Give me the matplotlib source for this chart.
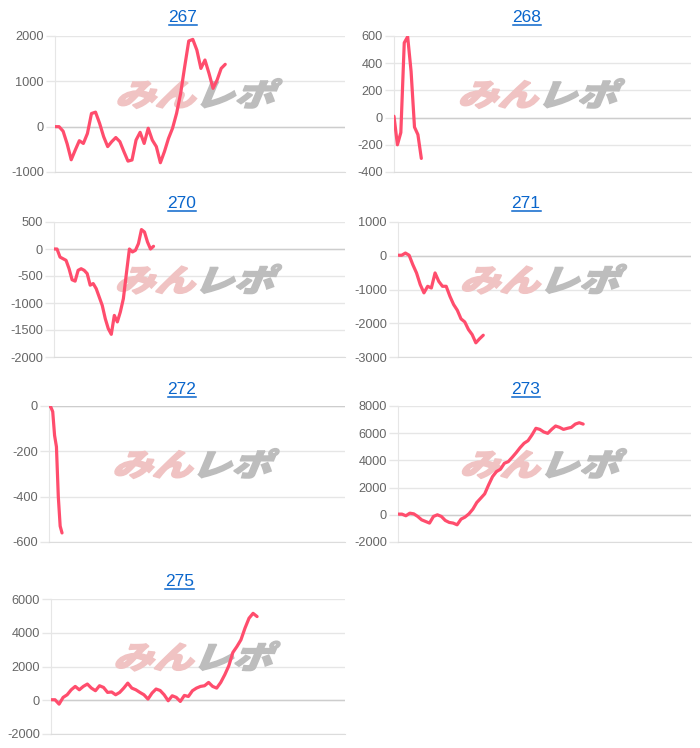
import numpy as np
import matplotlib
matplotlib.use('Agg')
import matplotlib.pyplot as plt
from matplotlib.textpath import TextPath
from matplotlib.font_manager import FontProperties
from matplotlib.patches import PathPatch
from matplotlib.transforms import Affine2D
from matplotlib.lines import Line2D

plt.rcParams['font.family'] = ['Liberation Sans', 'DejaVu Sans']

#%% Daten
titles = ['267', '268', '270', '271', '272', '273', '275']

s267 = [0, 0, -100, -380, -730, -515, -310, -370, -150, 290, 320, 75, -220, -440,
        -330, -240, -330, -550, -760, -735, -295, -125, -370, -35, -295, -440, -795,
        -550, -260, -35, 295, 735, 1325, 1890, 1925, 1690, 1285, 1470, 1175, 845,
        1030, 1285, 1375]
s268 = [10, -200, -110, 550, 595, 340, -70, -125, -300]
s270 = [0, 0, -150, -180, -210, -365, -570, -595, -395, -365, -395, -455, -670, -640,
        -735, -890, -1045, -1290, -1475, -1580, -1230, -1350, -1165, -920, -455, 0,
        -55, -25, 100, 360, 315, 130, 0, 50]
s271 = [15, 15, 80, 15, -265, -510, -855, -1100, -905, -955, -510, -760, -905, -905,
        -1200, -1445, -1615, -1870, -1960, -2185, -2335, -2580, -2460, -2355]
s272 = [0, -5, -25, -130, -180, -400, -530, -560]
s273 = [50, 50, -70, 120, 70, -120, -370, -490, -610, -120, 0, -120, -415, -560, -610,
        -735, -320, -170, 70, 415, 905, 1220, 1540, 2200, 2810, 3180, 3350, 3790, 3910,
        4230, 4570, 4940, 5260, 5450, 5870, 6360, 6280, 6090, 5990, 6280, 6530, 6430,
        6280, 6360, 6430, 6670, 6770, 6670]
s275 = [30, 30, -230, 170, 325, 620, 820, 620, 820, 960, 720, 565, 860, 760, 465, 490,
        325, 465, 720, 1015, 720, 620, 465, 325, 70, 425, 665, 580, 325, -30, 265, 170,
        -70, 285, 225, 565, 720, 820, 860, 1055, 820, 720, 1055, 1510, 2040, 2830, 3180,
        3580, 4270, 4860, 5150, 4960]
series = [s267, s268, s270, s271, s272, s273, s275]

# Anteil der x-Achse, den die Linie belegt
line_frac = [0.587, 0.092, 0.342, 0.291, 0.044, 0.632, 0.701]

yticks = [np.arange(-1000, 2001, 1000), np.arange(-400, 601, 200),
          np.arange(-2000, 501, 500), np.arange(-3000, 1001, 1000),
          np.arange(-600, 1, 200), np.arange(-2000, 8001, 2000),
          np.arange(-2000, 6001, 2000)]

#%% Layout in Pixeln (links, oben, rechts, unten), Titel (x, Grundlinie)
W, H = 700, 748
boxes = [(55, 36, 345, 172), (394, 36, 691, 172),
         (54, 222, 345, 357), (398, 222, 691, 357),
         (49, 406, 345, 542), (398, 406, 691, 542),
         (51, 599, 345, 734)]
tpos = [(183, 22.5), (527, 22.5), (182, 208.5), (526, 208.5),
        (182, 394), (526, 394), (180, 586)]

red = '#ff4d6d'
grid_c = '#e6e6e6'
zero_c = '#cdcdcd'

fig = plt.figure(figsize=(W / 100, H / 100), dpi=100)
fig.patch.set_facecolor('white')

fp = FontProperties(family='Noto Sans CJK JP', weight='black')
p1 = TextPath((0, 0), 'みん', prop=fp, size=1)
p2 = TextPath((0, 0), 'レポ', prop=fp, size=1)


def add_logo(ax):
    # Wasserzeichen, schraeg gestellt
    cx, cy = ax.transAxes.transform((0.5, 0.57))
    sk = Affine2D().skew_deg(18, 0).scale(40, 31)
    e1 = sk.transform_path(p1).get_extents()
    e2 = sk.transform_path(p2).get_extents()
    gap = 5
    total = e1.width + gap + e2.width
    x0 = cx - total / 2
    ymid = (e1.y0 + e1.y1) / 2
    t1 = sk + Affine2D().translate(x0 - e1.x0, cy - ymid)
    t2 = sk + Affine2D().translate(x0 + e1.width + gap - e2.x0, cy - ymid)
    ax.add_artist(PathPatch(p1, transform=t1, fc='#f0c3c3', ec='#f0c3c3', lw=1.2,
                            joinstyle='miter', zorder=1.5))
    ax.add_artist(PathPatch(p2, transform=t2, fc='#bdbdbd', ec='#bdbdbd', lw=1.2,
                            joinstyle='miter', zorder=1.5))


renderer = fig.canvas.get_renderer()
for k in range(len(series)):
    l, t, r, b = boxes[k]
    ax = fig.add_axes([l / W, 1 - b / H, (r - l) / W, (b - t) / H])
    v = series[k]
    x = np.arange(len(v))
    ax.plot(x, v, color=red, lw=2.3, solid_joinstyle='round', solid_capstyle='round', zorder=3)
    ax.set_xlim(0, (len(v) - 1) / line_frac[k])
    ax.set_ylim(yticks[k][0], yticks[k][-1])
    ax.set_yticks(yticks[k])
    ax.set_yticklabels([str(int(y)) for y in yticks[k]])
    ax.set_xticks([])
    ax.grid(axis='y', color=grid_c, lw=1)
    ax.set_axisbelow(True)
    ax.axhline(0, color=zero_c, lw=1, zorder=1)
    for s in ['top', 'right']:
        ax.spines[s].set_visible(False)
    ax.spines['left'].set_color(grid_c)
    ax.spines['bottom'].set_color('#dcdcdc')
    ax.tick_params(axis='y', length=6.5, width=1, color=grid_c, labelcolor='#666666',
                   labelsize=9.2, pad=1.5)
    add_logo(ax)

    tx, ty = tpos[k]
    txt = fig.text(tx / W, 1 - ty / H, titles[k], ha='center', va='baseline',
                   fontsize=12.5, color='#0a66cc')
    bb = txt.get_window_extent(renderer)
    uy = (1 - (ty + 2.7) / H)
    fig.add_artist(Line2D([bb.x0 / W, bb.x1 / W], [uy, uy], color='#0a66cc', lw=1.1,
                          transform=fig.transFigure))

fig.savefig('out.png', dpi=100, facecolor='white')
